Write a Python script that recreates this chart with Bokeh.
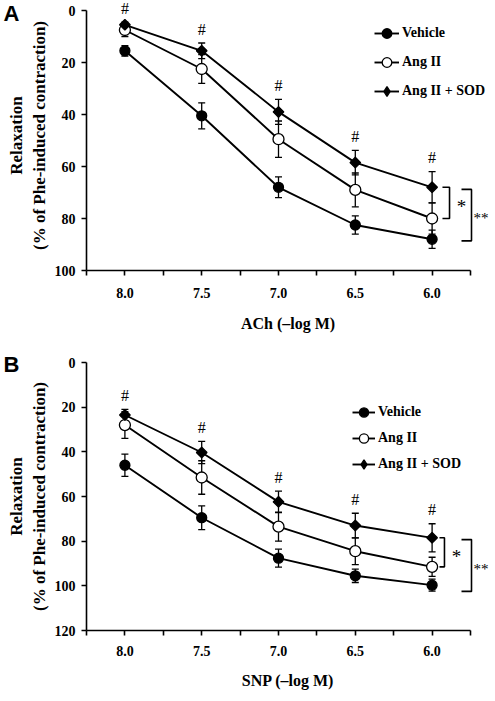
import math
from bokeh.plotting import figure
from bokeh.models import (ColumnDataSource, Range1d, FixedTicker, Whisker, TeeHead,
                          Legend, LegendItem, LinearAxis)
from bokeh.layouts import column
from bokeh.embed import file_html
from bokeh.resources import INLINE
from bokeh.core.properties import value

# ---------------- data ----------------
doses = ["8.0", "7.5", "7.0", "6.5", "6.0"]
series_names = ["Vehicle", "Ang II", "Ang II + SOD"]

# Panel A : ACh
a_vehicle = [15.5, 40.5, 68.0, 82.5, 88.0]
a_vehicle_err = [2.0, 5.0, 4.0, 3.5, 3.5]
a_ang = [7.5, 22.5, 49.5, 69.0, 80.0]
a_ang_err = [2.5, 5.5, 7.0, 6.5, 6.0]
a_sod = [5.5, 15.5, 39.0, 58.5, 68.0]
a_sod_err = [1.0, 3.0, 4.8, 4.7, 6.0]

# Panel B : SNP
b_vehicle = [46.0, 69.5, 87.6, 95.5, 99.7]
b_vehicle_err = [5.0, 5.3, 4.0, 3.0, 2.7]
b_ang = [28.0, 51.5, 73.5, 84.5, 91.5]
b_ang_err = [6.0, 7.5, 6.5, 6.0, 4.3]
b_sod = [23.5, 40.3, 62.4, 73.0, 78.5]
b_sod_err = [2.5, 5.0, 4.8, 5.5, 6.3]

a_yticks = [0, 20, 40, 60, 80, 100]
b_yticks = [0, 20, 40, 60, 80, 100, 120]
YLABEL = "Relaxation\n(% of Phe-induced contraction)"

SERIF = "Liberation Serif"
SANS = "Liberation Sans"
PX_PER_UNIT_X = 76.8
FRAME_W = 403
X_END = -0.5 + FRAME_W / PX_PER_UNIT_X


def make_panel(letter, xlabel, yticks, vehicle, vehicle_err, ang, ang_err, sod, sod_err,
               frame_h, top_border, top_ext_px, tick_standoff, label_standoff,
               legend_xy, legend_spacing, glyph_w,
               star_x, star_tick_x, dstar_pad):
    ymax = yticks[-1]
    ppu = (frame_h - top_ext_px) / ymax
    y_ext = top_ext_px / ppu
    xs = list(range(len(doses)))
    p = figure(frame_width=FRAME_W, frame_height=frame_h,
               min_border_left=76, min_border_right=0,
               min_border_top=top_border, min_border_bottom=0,
               x_range=Range1d(-0.5, X_END), y_range=Range1d(ymax, -y_ext),
               output_backend="svg", toolbar_location=None)
    p.outline_line_color = None
    p.xgrid.visible = False
    p.ygrid.visible = False
    p.background_fill_color = "white"
    p.border_fill_color = "white"

    # axes
    xa = p.xaxis[0]
    xa.ticker = FixedTicker(ticks=xs, minor_ticks=[i - 0.5 for i in range(len(doses) + 1)])
    xa.major_label_overrides = {i: d for i, d in enumerate(doses)}
    xa.bounds = (-0.5, len(doses) - 0.5)
    ya = p.yaxis[0]
    ya.ticker = FixedTicker(ticks=yticks)
    ya.bounds = (0, ymax)
    for ax in (xa, ya):
        ax.axis_line_color = "black"
        ax.axis_line_width = 1.6
        ax.major_tick_line_color = "black"
        ax.major_tick_line_width = 1.6
        ax.major_tick_out = 5
        ax.major_tick_in = 0
        ax.major_label_text_font = SERIF
        ax.major_label_text_font_style = "bold"
        ax.major_label_text_font_size = "14px"
        ax.major_label_text_color = "black"
        ax.axis_label_text_font = SERIF
        ax.axis_label_text_font_style = "bold"
        ax.axis_label_text_color = "black"
    xa.minor_tick_line_color = "black"
    xa.minor_tick_line_width = 1.6
    xa.minor_tick_out = 5
    xa.minor_tick_in = 0
    ya.minor_tick_line_color = None
    xa.major_label_standoff = tick_standoff
    xa.axis_label = xlabel
    xa.axis_label_standoff = label_standoff
    xa.axis_label_text_font_size = "16px"
    ya.major_label_standoff = 6
    ya.axis_label = YLABEL
    ya.axis_label_standoff = 3
    ya.axis_label_text_font_size = "17px"

    # panel letter, drawn as the single label of an extra (zero-width) left axis
    la = LinearAxis(ticker=FixedTicker(ticks=[1]), major_label_overrides={1: letter},
                    axis_line_color=None, major_tick_line_color=None,
                    minor_tick_line_color=None, major_tick_out=0, major_tick_in=0,
                    major_label_standoff=-16, major_label_text_font=SANS,
                    major_label_text_font_style="bold", major_label_text_font_size="22px",
                    major_label_text_color="black")
    p.add_layout(la, "left")

    # error bars
    for vals, errs in ((vehicle, vehicle_err), (ang, ang_err), (sod, sod_err)):
        src = ColumnDataSource(dict(x=xs,
                                    upper=[v + e for v, e in zip(vals, errs)],
                                    lower=[v - e for v, e in zip(vals, errs)]))
        w = Whisker(base="x", upper="upper", lower="lower", source=src,
                    line_color="black", line_width=1.3,
                    upper_head=TeeHead(size=7, line_color="black", line_width=1.3),
                    lower_head=TeeHead(size=7, line_color="black", line_width=1.3))
        p.add_layout(w)

    items = []
    styles = [
        dict(marker="circle", size=10, fill_color="black", angle=0.0, legend_marker="circle"),
        dict(marker="circle", size=11, fill_color="white", angle=0.0, legend_marker="circle"),
        dict(marker="square", size=7.5, fill_color="black", angle=math.pi / 4,
             legend_marker="diamond"),
    ]
    for name, vals, st in zip(series_names, (vehicle, ang, sod), styles):
        lr = p.line(xs, vals, line_color="black", line_width=1.9)
        sr = p.scatter(xs, vals, marker=st["marker"], size=st["size"],
                       fill_color=st["fill_color"], line_color="black", line_width=1.3,
                       angle=st["angle"])
        if st["legend_marker"] == st["marker"]:
            items.append(LegendItem(label=name, renderers=[lr, sr]))
        else:
            # legend-only marker (legend glyphs ignore marker angle)
            lm = p.scatter([float("nan")], [float("nan")], marker=st["legend_marker"],
                           size=12, fill_color=st["fill_color"], line_color="black",
                           line_width=1.3)
            items.append(LegendItem(label=name, renderers=[lr, lm]))

    legend = Legend(items=items, location=legend_xy, border_line_color=None,
                    background_fill_alpha=0, padding=0, margin=0,
                    spacing=legend_spacing, glyph_width=glyph_w, glyph_height=24,
                    label_height=24, label_standoff=3,
                    label_text_font=SERIF, label_text_font_style="bold",
                    label_text_font_size="14px", label_text_color="black")
    p.add_layout(legend)

    # significance marks (#) above the Ang II + SOD error bars
    p.text(x=xs, y=[s - e for s, e in zip(sod, sod_err)], text=["#"] * len(xs),
           text_align="center", text_baseline="middle", y_offset=-14,
           text_font=value(SERIF), text_font_size="16px", text_color="black")

    # brackets: * (SOD vs Ang II) and ** (SOD vs Vehicle) at the last dose
    top = sod[-1]
    bot1 = ang[-1]
    bot2 = vehicle[-1] + dstar_pad
    p.line([star_tick_x, star_x, star_x, star_tick_x], [top, top, bot1, bot1],
           line_color="black", line_width=1.6)
    dx = len(doses) - 0.5 + 1.0 / PX_PER_UNIT_X
    p.line([dx - 10 / PX_PER_UNIT_X, dx, dx, dx - 10 / PX_PER_UNIT_X],
           [top + 0.8, top + 0.8, bot2, bot2], line_color="black", line_width=1.6)
    p.text(x=[star_x + 12 / PX_PER_UNIT_X], y=[(top + bot1) / 2], text=["*"],
           text_align="center", text_baseline="middle", y_offset=4,
           text_font=value(SERIF), text_font_size="19px", text_color="black")
    p.text(x=[dx + 2 / PX_PER_UNIT_X], y=[(top + bot2) / 2], text=["**"],
           text_align="left", text_baseline="middle", y_offset=4,
           text_font=value(SERIF), text_font_size="15px", text_color="black")
    return p


pA = make_panel("A", "ACh (\u2013log M)", a_yticks, a_vehicle, a_vehicle_err, a_ang, a_ang_err,
                a_sod, a_sod_err, frame_h=270, top_border=0, top_ext_px=10,
                tick_standoff=12, label_standoff=14,
                legend_xy=(288, 167), legend_spacing=5, glyph_w=25,
                star_x=4.227, star_tick_x=4.135, dstar_pad=0.6)
pB = make_panel("B", "SNP (\u2013log M)", b_yticks, b_vehicle, b_vehicle_err, b_ang, b_ang_err,
                b_sod, b_sod_err, frame_h=268, top_border=28, top_ext_px=0,
                tick_standoff=10, label_standoff=13,
                legend_xy=(266, 154), legend_spacing=2, glyph_w=23,
                star_x=4.161, star_tick_x=4.096, dstar_pad=2.8)

layout = column(pA, pB, spacing=0)
open("out.html", "w").write(file_html(layout, INLINE))
